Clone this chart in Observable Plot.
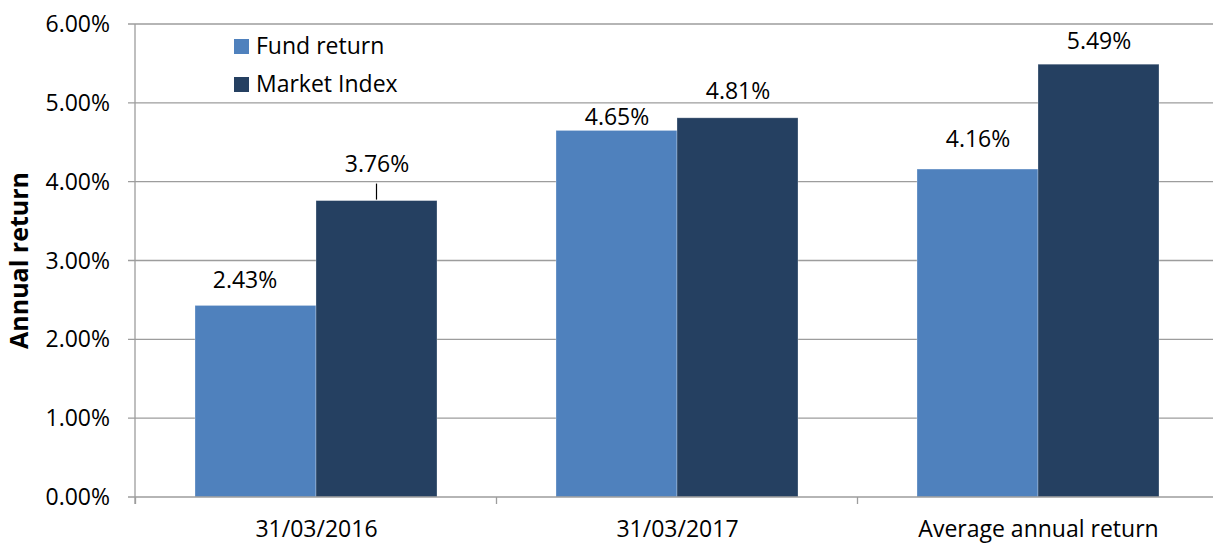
<!DOCTYPE html>
<html>
<head>
<meta charset="utf-8">
<script src="https://cdn.jsdelivr.net/npm/d3@7"></script>
<script src="https://cdn.jsdelivr.net/npm/@observablehq/plot@0.6"></script>
<style>
  html, body { margin: 0; padding: 0; background: #fff; }
  #chart svg { display: block; }
</style>
</head>
<body>
<div id="chart"></div>
<script>
// ---- data ----
const categories = ["31/03/2016", "31/03/2017", "Average annual return"];
const series = ["Fund return", "Market Index"];
const fundReturn = [0.0243, 0.0465, 0.0416];
const marketIndex = [0.0376, 0.0481, 0.0549];
const yTicks = [0, 0.01, 0.02, 0.03, 0.04, 0.05, 0.06];
const yLabel = "Annual return";

const colors = ["#4F81BD", "#254061"];
const data = [];
categories.forEach((c, i) => {
  data.push({category: c, series: series[0], value: fundReturn[i]});
  data.push({category: c, series: series[1], value: marketIndex[i]});
});

// label placement tweaks (style only)
const labelDy = {"0|0": -25, "0|1": -36, "1|0": -13, "1|1": -27, "2|0": -30, "2|1": -23};
const labelDx = {"0|0": -11};
const key = d => categories.indexOf(d.category) + "|" + series.indexOf(d.series);

const fmt = d3.format(".2%");
const FONT = "Open Sans";
const FS = 23;
const GRID = "#9d9d9d";

const textMarks = data.map(d => Plot.text([d], {
  fx: "category", x: "series", y: "value",
  text: v => fmt(v.value), lineAnchor: "middle",
  dy: labelDy[key(d)] || -25, dx: labelDx[key(d)] || 0,
  fontSize: FS, fill: "#000"
}));

const plot = Plot.plot({
  width: 1213, height: 544,
  marginLeft: 135, marginRight: 0, marginTop: 24, marginBottom: 47,
  style: {fontFamily: FONT, fontSize: FS + "px", color: "#000", background: "#fff"},
  fx: {domain: categories, range: [135, 1218], paddingInner: 0.33, paddingOuter: 0.165,
       label: null, axis: "bottom", tickSize: 0, tickPadding: 23},
  x: {domain: series, padding: 0, axis: null},
  y: {domain: [0, 0.06], axis: null},
  color: {domain: series, range: colors},
  marks: [
    Plot.barY(data, {fx: "category", x: "series", y: "value", fill: "series", stroke: "#fff", strokeOpacity: 0.35, strokeWidth: 0.8}),
    ...textMarks
  ]
});

document.getElementById("chart").appendChild(plot);

// ---- axes & grid drawn from the plot's own scales ----
const svgEl = plot.tagName.toLowerCase() === "svg" ? plot : plot.querySelector("svg");
const svg = d3.select(svgEl);
const fxS = plot.scale("fx");
const xS = plot.scale("x");
const yS = plot.scale("y");
const y0 = yS.apply(0);
const yTop = yS.apply(0.06);
const x0 = 135;
const W = 1213;

// gridlines under the bars
const under = svg.insert("g", ":first-child");
yTicks.filter(t => t > 0).forEach(t => {
  const yy = yS.apply(t);
  under.append("line").attr("x1", x0 - 7).attr("x2", W).attr("y1", yy).attr("y2", yy)
    .attr("stroke", GRID).attr("stroke-width", 1.3);
});

const g = svg.append("g").attr("text-anchor", "start");
// baseline
g.append("line").attr("x1", x0 - 7).attr("x2", W).attr("y1", y0).attr("y2", y0)
  .attr("stroke", GRID).attr("stroke-width", 1.3);
// y axis line
g.append("line").attr("x1", x0).attr("x2", x0).attr("y1", yTop).attr("y2", y0 + 7)
  .attr("stroke", GRID).attr("stroke-width", 1.3);
// y tick labels
yTicks.forEach(t => {
  g.append("text").attr("x", x0 - 25).attr("y", yS.apply(t)).attr("dy", "0.35em")
    .attr("text-anchor", "end").attr("font-family", FONT).attr("font-size", FS)
    .attr("fill", "#000").text(fmt(t));
});
// y label
g.append("text").attr("transform", `translate(19,${(y0 + yTop) / 2}) rotate(-90)`)
  .attr("text-anchor", "middle").attr("dy", "0.35em")
  .attr("font-family", FONT).attr("font-size", 25).attr("font-weight", "bold")
  .attr("fill", "#000").text(yLabel);
// category boundary ticks
const gap = fxS.step - fxS.bandwidth;
categories.forEach((c, i) => {
  const bx = fxS.apply(c) - gap / 2;
  g.append("line").attr("x1", bx).attr("x2", bx).attr("y1", y0).attr("y2", y0 + 7)
    .attr("stroke", GRID).attr("stroke-width", 1.3);
});
// leader line for the 3.76% label
{
  const cx = fxS.apply(categories[0]) + xS.apply(series[1]) - xS.range[0] + xS.bandwidth / 2;
  const yy = yS.apply(marketIndex[0]);
  g.append("line").attr("x1", cx).attr("x2", cx).attr("y1", yy - 17).attr("y2", yy - 1)
    .attr("stroke", "#000").attr("stroke-width", 1.2);
}
// legend
series.forEach((s, i) => {
  const ly = 46 + i * 38;
  g.append("rect").attr("x", 234).attr("y", ly - 7).attr("width", 15).attr("height", 15).attr("fill", colors[i]);
  g.append("text").attr("x", 256).attr("y", ly).attr("dy", "0.35em").attr("text-anchor", "start")
    .attr("font-family", FONT).attr("font-size", FS).attr("fill", "#000").text(s);
});
</script>
</body>
</html>
